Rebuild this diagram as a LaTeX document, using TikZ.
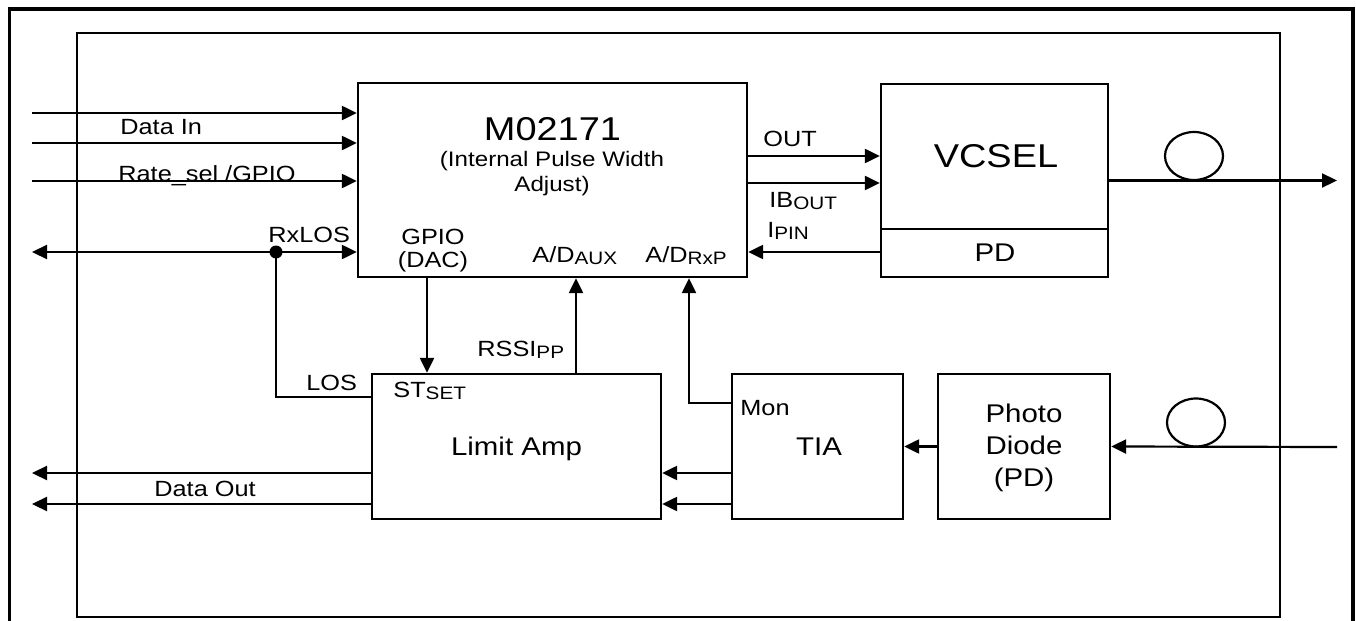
\documentclass[tikz,border=0pt]{standalone}
\usepackage{fontspec}
\setmainfont[FakeStretch=1.15]{Liberation Sans}
\usepackage{tikz}
\usetikzlibrary{positioning,arrows.meta,calc,shapes.geometric}
\newcommand{\subtx}[1]{\raisebox{-1.2pt}{\fontsize{9}{9}\selectfont #1}}
\tikzset{
  blk/.style   ={draw, line width=1.15pt, inner sep=0pt},
  frame/.style ={line width=1.6pt},
  iframe/.style={line width=1.1pt},
  ln/.style    ={line width=1.1pt},
  ar/.style    ={-{Triangle[length=7.5pt,width=7pt]}, line width=1.1pt},
  dar/.style   ={{Triangle[length=7.5pt,width=7pt]}-{Triangle[length=7.5pt,width=7pt]}, line width=1.1pt},
  lbl/.style   ={font=\fontsize{11}{11.5}\selectfont, inner sep=0pt},
  big/.style   ={font=\fontsize{12.8}{16}\selectfont, inner sep=0pt},
  title/.style ={font=\fontsize{16.5}{18}\selectfont, inner sep=0pt},
  fiber/.style ={draw, ellipse, line width=1.1pt, inner sep=0pt, minimum width=29pt, minimum height=24pt},
}

\begin{document}
\begin{tikzpicture}[x=0.5pt,y=-0.5pt]
\useasboundingbox (0,0) rectangle (1356,621);
% frames
\draw[frame] (9.5,640) |- (1353,9) -- (1353,640);
\draw[iframe] (77,33) rectangle (1280,617);

% blocks
\node[blk,minimum width=194.5pt,minimum height=97pt] (ic) at (552.5,180) {};
\node[blk,minimum width=113.5pt,minimum height=96.5pt] (vcsel) at (994.5,180.5) {};
\node[blk,minimum width=144.5pt,minimum height=72.5pt] (la) at (516.5,446.5) {};
\node[blk,minimum width=85.5pt,minimum height=72.5pt] (tia) at (817.5,446.5) {};
\node[blk,minimum width=86pt,minimum height=72.5pt] (pd) at (1024,446.5) {};
\draw[blk] ([yshift=24.5pt]vcsel.south west) -- ([yshift=24.5pt]vcsel.south east);

% block texts
\node[title,anchor=base] (ictx) at (552.5,140) {M02171};
\node[font=\fontsize{10.5}{12.5}\selectfont,inner sep=0pt,align=center] (icsub) at (552,174)
  {(Internal Pulse Width\\ Adjust)};
\node[title,anchor=base] (vctx) at (996,167) {VCSEL};
\node[big,anchor=base] (pdtx) at (995,261) {PD};
\node[big,anchor=base] (latx) at (516.5,455) {Limit Amp};
\node[big,anchor=base] (tiatx) at (819,455) {TIA};
\node[big,align=center] (pdiode) at (1024,448) {Photo\\ Diode\\ (PD)};

% inputs to M02171
\coordinate (in1) at (32,113);
\coordinate (in2) at (32,143);
\coordinate (in3) at (32,181);
\coordinate (rxl) at (32,252);
\draw[ar] (in1) -- (in1 -| ic.west);
\draw[ar] (in2) -- (in2 -| ic.west);
\draw[ar] (in3) -- (in3 -| ic.west);
\draw[dar] (rxl) -- (rxl -| ic.west);
\node[circle,fill,inner sep=0pt,minimum size=6.5pt] (dot) at (276,252) {};
\draw[ln] (dot.center) |- ([yshift=-12pt]la.north west);
\node[lbl,anchor=base west] (datain) at (120,134) {Data In};
\node[lbl,anchor=base west] (ratesel) at (118,181) {Rate\_sel /GPIO};
\node[lbl,anchor=base west] (rxlos) at (268,242) {RxLOS};
\node[lbl,anchor=base west] (los) at (306,390) {LOS};

% M02171 <-> VCSEL
\coordinate (o1) at ([yshift=12pt]ic.east);
\coordinate (o2) at ([yshift=-1.5pt]ic.east);
\coordinate (o3) at ([yshift=-36pt]ic.east);
\draw[ar] (o1) -- (o1 -| vcsel.west);
\draw[ar] (o2) -- (o2 -| vcsel.west);
\draw[ar] (o3 -| vcsel.west) -- (o3);
\node[lbl,anchor=base west] (outl) at (763,146) {OUT};
\node[lbl,anchor=base west] (iboutl) at (769,207) {IB\subtx{OUT}};
\node[lbl,anchor=base west] (ipinl) at (767,237) {I\subtx{PIN}};

% optical output
\coordinate (fout) at (1337,180.5);
\draw[ar] (vcsel.east) -- (fout);
\node[fiber] (loopout) at (1194,156) {};

% M02171 port labels
\node[lbl,align=center] (gpio) at (433,251) {GPIO\\ (DAC)};
\node[lbl,anchor=base west] (adaux) at (532,262) {A/D\subtx{AUX}};
\node[lbl,anchor=base west] (adrxp) at (645,262) {A/D\subtx{RxP}};

% M02171 <-> receive chain
\coordinate (gp) at ([xshift=-62.75pt]ic.south);
\coordinate (ax) at ([xshift=11.75pt]ic.south);
\coordinate (rp) at ([xshift=68.25pt]ic.south);
\draw[ar] (gp) -- (gp |- la.north);
\draw[ar] (ax |- la.north) -- (ax);
\draw[ar] ([yshift=-15pt]tia.north west) -| (rp);
\node[lbl,anchor=base west] (stset) at (393,397) {ST\subtx{SET}};
\node[lbl,anchor=base west] (rssi) at (477,356) {RSSI\subtx{PP}};
\node[lbl,anchor=base west] (mon) at (740,415) {Mon};

% receive chain
\coordinate (d1) at (32,473);
\coordinate (d2) at (32,504);
\draw[ar] (d1 -| la.west) -- (d1);
\draw[ar] (d2 -| la.west) -- (d2);
\draw[ar] (d1 -| tia.west) -- (d1 -| la.east);
\draw[ar] (d2 -| tia.west) -- (d2 -| la.east);
\draw[ar] (pd.west) -- (tia.east);
\coordinate (fin) at (1337,447);
\draw[ar] (fin) -- (pd.east);
\node[fiber] (loopin) at (1196,422.5) {};
\node[lbl,anchor=base west] (dataout) at (154,496) {Data Out};
\end{tikzpicture}
\end{document}
